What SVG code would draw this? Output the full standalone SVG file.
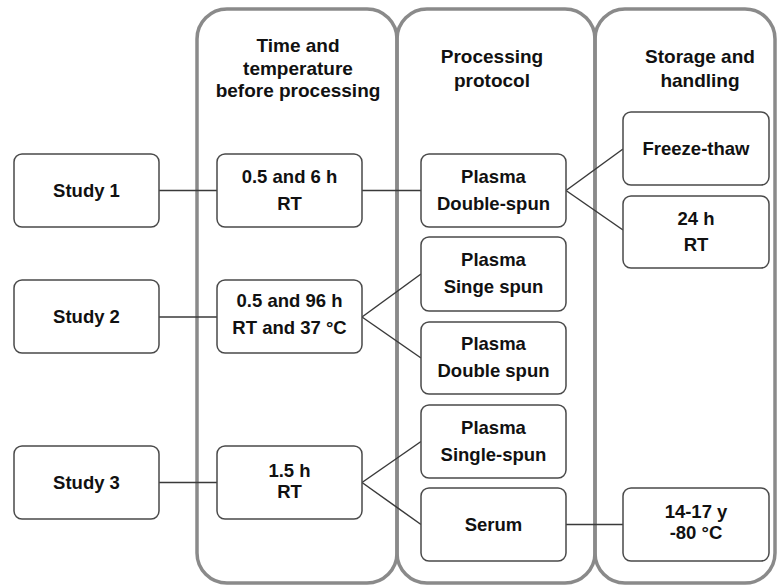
<svg xmlns="http://www.w3.org/2000/svg" width="777" height="586" viewBox="0 0 777 586">
  <style>
    .col { fill: none; stroke: #8a8a8a; stroke-width: 3.5; }
    .box { fill: #ffffff; stroke: #4a4a4a; stroke-width: 1.5; }
    .hdr { font-family: "Liberation Sans", Arial, sans-serif; font-weight: bold; font-size: 19px; fill: #111; text-anchor: middle; }
    .lbl { font-family: "Liberation Sans", Arial, sans-serif; font-weight: bold; font-size: 18.5px; fill: #111; text-anchor: middle; }
    .conn { fill: none; stroke: #3a3a3a; stroke-width: 1.5; }
  </style>
  <rect width="777" height="586" fill="#ffffff"/>

  <!-- column panels -->
  <g id="columns">
    <rect class="col" x="197" y="9" width="200" height="574" rx="30" ry="30"/>
    <rect class="col" x="397" y="9" width="198" height="574" rx="30" ry="30"/>
    <rect class="col" x="595" y="9" width="180" height="574" rx="30" ry="30"/>
  </g>

  <!-- column headers -->
  <g id="headers">
    <text class="hdr" x="298" y="52">Time and</text>
    <text class="hdr" x="298" y="75">temperature</text>
    <text class="hdr" x="298" y="97">before processing</text>
    <text class="hdr" x="492" y="63">Processing</text>
    <text class="hdr" x="492" y="87">protocol</text>
    <text class="hdr" x="700" y="63">Storage and</text>
    <text class="hdr" x="700" y="87">handling</text>
  </g>

  <!-- connectors -->
  <g id="connectors">
    <line class="conn" x1="159" y1="190.5" x2="217" y2="190.5"/>
    <line class="conn" x1="362" y1="190.5" x2="421" y2="190.5"/>
    <line class="conn" x1="566" y1="190.5" x2="623" y2="149"/>
    <line class="conn" x1="566" y1="190.5" x2="623" y2="230"/>
    <line class="conn" x1="159" y1="317" x2="217" y2="317"/>
    <line class="conn" x1="362" y1="317" x2="421" y2="274"/>
    <line class="conn" x1="362" y1="317" x2="421" y2="358"/>
    <line class="conn" x1="159" y1="482.5" x2="217" y2="482.5"/>
    <line class="conn" x1="362" y1="482.5" x2="421" y2="441.5"/>
    <line class="conn" x1="362" y1="482.5" x2="421" y2="524.5"/>
    <line class="conn" x1="566" y1="524.5" x2="623" y2="524.5"/>
  </g>

  <!-- studies -->
  <g id="study1">
    <rect class="box" x="14" y="154" width="145" height="73" rx="8"/>
    <text class="lbl" x="86.5" y="197">Study 1</text>
  </g>
  <g id="study2">
    <rect class="box" x="14" y="280" width="145" height="73" rx="8"/>
    <text class="lbl" x="86.5" y="323">Study 2</text>
  </g>
  <g id="study3">
    <rect class="box" x="14" y="446" width="145" height="73" rx="8"/>
    <text class="lbl" x="86.5" y="489">Study 3</text>
  </g>

  <!-- time and temperature -->
  <g id="tt1">
    <rect class="box" x="217" y="154" width="145" height="73" rx="8"/>
    <text class="lbl" x="289.5" y="183">0.5 and 6 h</text>
    <text class="lbl" x="289.5" y="210">RT</text>
  </g>
  <g id="tt2">
    <rect class="box" x="217" y="280" width="145" height="73" rx="8"/>
    <text class="lbl" x="289.5" y="307">0.5 and 96 h</text>
    <text class="lbl" x="289.5" y="334">RT and 37 °C</text>
  </g>
  <g id="tt3">
    <rect class="box" x="217" y="446" width="145" height="73" rx="8"/>
    <text class="lbl" x="289.5" y="477">1.5 h</text>
    <text class="lbl" x="289.5" y="498">RT</text>
  </g>

  <!-- processing protocol -->
  <g id="pp1">
    <rect class="box" x="421" y="154" width="145" height="73" rx="8"/>
    <text class="lbl" x="493.5" y="183">Plasma</text>
    <text class="lbl" x="493.5" y="210">Double-spun</text>
  </g>
  <g id="pp2">
    <rect class="box" x="421" y="237" width="145" height="74" rx="8"/>
    <text class="lbl" x="493.5" y="266">Plasma</text>
    <text class="lbl" x="493.5" y="293">Singe spun</text>
  </g>
  <g id="pp3">
    <rect class="box" x="421" y="322" width="145" height="72" rx="8"/>
    <text class="lbl" x="493.5" y="350">Plasma</text>
    <text class="lbl" x="493.5" y="377">Double spun</text>
  </g>
  <g id="pp4">
    <rect class="box" x="421" y="405" width="145" height="73" rx="8"/>
    <text class="lbl" x="493.5" y="434">Plasma</text>
    <text class="lbl" x="493.5" y="461">Single-spun</text>
  </g>
  <g id="pp5">
    <rect class="box" x="421" y="488" width="145" height="73" rx="8"/>
    <text class="lbl" x="493.5" y="531">Serum</text>
  </g>

  <!-- storage and handling -->
  <g id="sh1">
    <rect class="box" x="623" y="112" width="146" height="73" rx="8"/>
    <text class="lbl" x="696" y="155">Freeze-thaw</text>
  </g>
  <g id="sh2">
    <rect class="box" x="623" y="196" width="146" height="72" rx="8"/>
    <text class="lbl" x="696" y="225">24 h</text>
    <text class="lbl" x="696" y="251">RT</text>
  </g>
  <g id="sh3">
    <rect class="box" x="623" y="488" width="146" height="73" rx="8"/>
    <text class="lbl" x="696" y="518">14-17 y</text>
    <text class="lbl" x="696" y="539">-80 °C</text>
  </g>
</svg>
